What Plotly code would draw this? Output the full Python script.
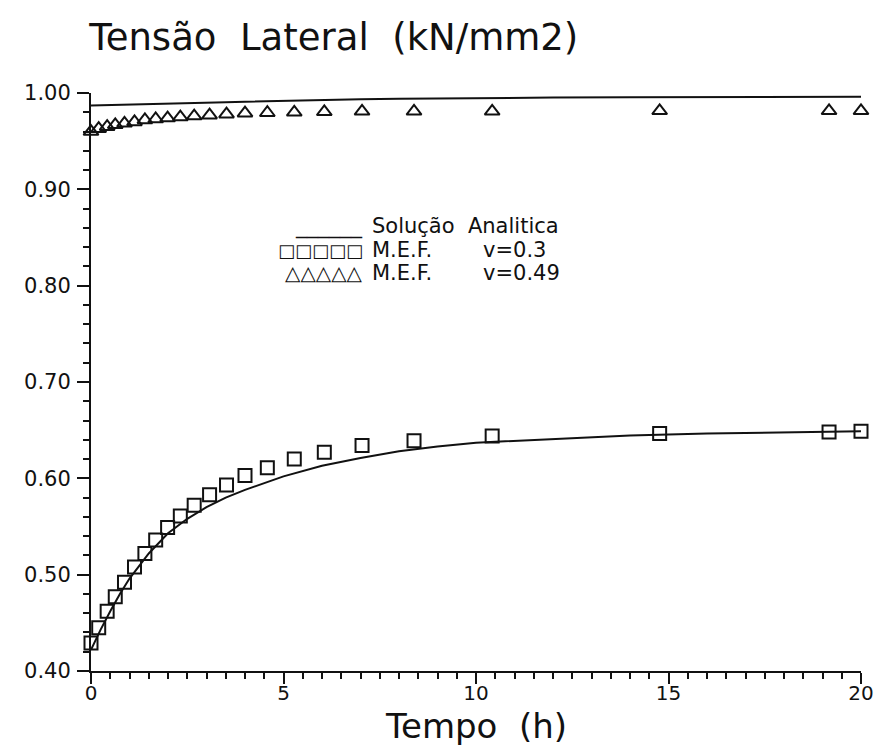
import plotly.graph_objects as go

# Time steps of the finite element (M.E.F.) results, hours
t_fem = [0, 0.2, 0.42, 0.63, 0.87, 1.13, 1.4, 1.68, 1.99, 2.32, 2.68, 3.08,
         3.52, 4.0, 4.58, 5.28, 6.06, 7.04, 8.39, 10.42, 14.77, 19.17, 20.0]

# Lateral stress, M.E.F. with v = 0.3
fem_v03 = [0.429, 0.445, 0.462, 0.477, 0.492, 0.508, 0.522, 0.536, 0.549,
           0.561, 0.572, 0.583, 0.593, 0.603, 0.611, 0.620, 0.627, 0.634,
           0.639, 0.644, 0.6466, 0.648, 0.649]

# Lateral stress, M.E.F. with v = 0.49
fem_v049 = [0.960, 0.963, 0.965, 0.967, 0.9685, 0.970, 0.972, 0.973, 0.974,
            0.975, 0.976, 0.977, 0.978, 0.979, 0.9795, 0.980, 0.9805, 0.981,
            0.981, 0.981, 0.9815, 0.9815, 0.9815]

# Analytical solution
t_an = [0, 0.25, 0.5, 0.75, 1, 1.5, 2, 2.5, 3, 3.5, 4, 5, 6, 7, 8, 9, 10,
        12, 14, 16, 18, 20]
an_v03 = [0.422, 0.443, 0.462, 0.480, 0.496, 0.522, 0.543, 0.558, 0.570,
          0.580, 0.588, 0.602, 0.613, 0.621, 0.628, 0.633, 0.637, 0.641,
          0.6445, 0.6465, 0.648, 0.649]
an_v049 = [0.987, 0.9872, 0.9875, 0.9878, 0.988, 0.9885, 0.989, 0.9895,
           0.990, 0.9905, 0.991, 0.992, 0.993, 0.9935, 0.994, 0.9945, 0.995,
           0.9953, 0.9956, 0.9958, 0.996, 0.996]

x_ticks = [0, 5, 10, 15, 20]
y_ticks = [0.40, 0.50, 0.60, 0.70, 0.80, 0.90, 1.00]

INK = "#111111"
FONT = "DejaVu Sans"

fig = go.Figure()

fig.add_trace(go.Scatter(x=t_an, y=an_v03, mode="lines",
                         line=dict(color=INK, width=2), cliponaxis=False))
fig.add_trace(go.Scatter(x=t_an, y=an_v049, mode="lines",
                         line=dict(color=INK, width=2), cliponaxis=False))
fig.add_trace(go.Scatter(x=t_fem, y=fem_v03, mode="markers", cliponaxis=False,
                         marker=dict(symbol="square-open", size=13,
                                     color=INK, line=dict(width=2))))
fig.add_trace(go.Scatter(x=t_fem, y=fem_v049, mode="markers", cliponaxis=False,
                         marker=dict(symbol="triangle-up-open", size=13,
                                     color=INK, line=dict(width=2))))

# Legend written as text lines inside the plot area
legend_font = dict(family=FONT, size=21, color=INK)
rows = [
    (0.770, "______", 22, "Solução\u00a0\u00a0Analitica", None),
    (0.728, "□□□□□", 18, "M.E.F.", "v=0.3"),
    (0.689, "△△△△△", 20, "M.E.F.", "v=0.49"),
]
for y, sym, sym_size, label, val in rows:
    fig.add_annotation(x=0.356, y=y, xref="paper", yref="paper", text=sym,
                       showarrow=False, xanchor="right", yanchor="middle",
                       font=dict(family=FONT, size=sym_size, color=INK))
    fig.add_annotation(x=0.362, y=y, xref="paper", yref="paper", text=label,
                       showarrow=False, xanchor="left", yanchor="middle",
                       font=legend_font)
    if val:
        fig.add_annotation(x=0.506, y=y, xref="paper", yref="paper", text=val,
                           showarrow=False, xanchor="left", yanchor="middle",
                           font=legend_font)

# Horizontal axis title
fig.add_annotation(x=0.5, y=-0.0945, xref="paper", yref="paper",
                   text="Tempo\u00a0\u00a0(h)", showarrow=False,
                   xanchor="center", yanchor="middle",
                   font=dict(family=FONT, size=34, color=INK))

fig.update_layout(
    width=876, height=746,
    margin=dict(l=91, r=15, t=93, b=75, autoexpand=False),
    paper_bgcolor="white", plot_bgcolor="white",
    showlegend=False,
    font=dict(family=FONT, color=INK),
    title=dict(text="Tensão\u00a0\u00a0Lateral\u00a0\u00a0(kN/mm2)",
               x=0.102, xanchor="left", xref="container",
               y=0.95, yanchor="middle", yref="container",
               font=dict(family=FONT, size=37, color=INK)),
)

fig.update_xaxes(
    range=[0, 20], showgrid=False, zeroline=False, automargin=False,
    showline=True, linecolor=INK, linewidth=2,
    tickmode="array", tickvals=x_ticks, ticktext=[str(v) for v in x_ticks],
    ticks="outside", ticklen=11, tickwidth=2, tickcolor=INK,
    ticklabelstandoff=-8,
    tickfont=dict(family=FONT, size=20, color=INK),
    minor=dict(dtick=0.5, ticks="outside", ticklen=6, tickwidth=1.5,
               tickcolor=INK, showgrid=False),
)
fig.update_yaxes(
    range=[0.40, 1.00], showgrid=False, zeroline=False, automargin=False,
    showline=True, linecolor=INK, linewidth=2,
    tickmode="array", tickvals=y_ticks,
    ticktext=[f"{v:.2f}" for v in y_ticks],
    ticks="outside", ticklen=12, tickwidth=2, tickcolor=INK,
    ticklabelstandoff=2,
    tickfont=dict(family=FONT, size=21, color=INK),
    minor=dict(dtick=0.02, ticks="outside", ticklen=6, tickwidth=1.5,
               tickcolor=INK, showgrid=False),
)

fig.write_html("out.html")
